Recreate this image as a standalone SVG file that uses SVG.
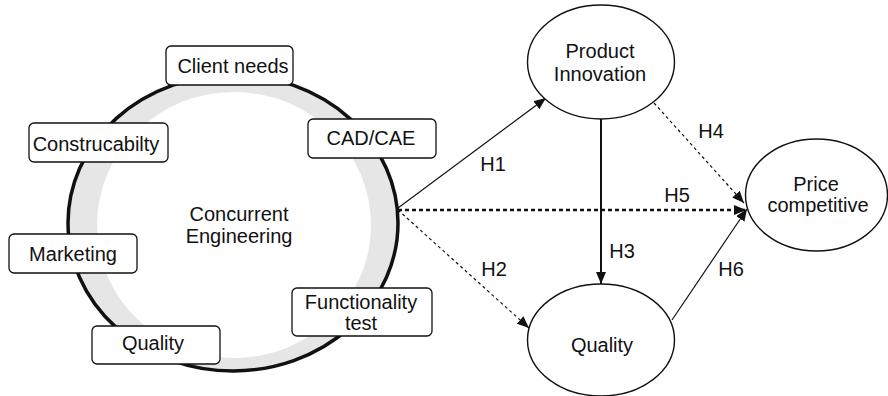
<svg xmlns="http://www.w3.org/2000/svg" width="888" height="396" viewBox="0 0 888 396">
  <style>
    text { font-family: "Liberation Sans", Arial, sans-serif; font-size: 20px; fill: #111; text-anchor: middle; }
    .box { fill: #fff; stroke: #111; stroke-width: 1.3; }
    .oval { fill: #fff; stroke: #111; stroke-width: 1.4; }
    .thin { fill: none; stroke: #111; stroke-width: 1.2; }
    .dash { fill: none; stroke: #111; stroke-width: 1.2; stroke-dasharray: 3 3; }
    .bold { fill: none; stroke: #111; stroke-width: 2; }
    .dot { fill: none; stroke: #111; stroke-width: 2.5; stroke-dasharray: 4 3; }
  </style>
  <defs>
    <marker id="arrow" viewBox="0 0 12 10" refX="12" refY="5" markerWidth="12" markerHeight="10" markerUnits="userSpaceOnUse" orient="auto">
      <path d="M0,0 L12,5 L0,10 z" fill="#111"/>
    </marker>
  </defs>

  <rect width="888" height="396" fill="#fff"/>

  <!-- concurrent engineering ring -->
  <g id="ce-ring">
    <ellipse cx="233" cy="223" rx="165" ry="148" fill="#e6e6e6" stroke="#111" stroke-width="3.5"/>
    <ellipse cx="234" cy="225" rx="137" ry="133" fill="#fff"/>
    <text x="239" y="221">Concurrent</text>
    <text x="239" y="243">Engineering</text>
  </g>

  <g id="client-needs">
    <rect class="box" x="166" y="46" width="127" height="39" rx="5"/>
    <text x="233" y="73">Client needs</text>
  </g>
  <g id="cad-cae">
    <rect class="box" x="308" y="119" width="128" height="39" rx="5"/>
    <text x="371" y="145">CAD/CAE</text>
  </g>
  <g id="construcabilty">
    <rect class="box" x="29" y="123" width="139" height="39" rx="5"/>
    <text x="96" y="151">Construcabilty</text>
  </g>
  <g id="marketing">
    <rect class="box" x="9" y="234" width="128" height="39" rx="5"/>
    <text x="73" y="261">Marketing</text>
  </g>
  <g id="quality-box">
    <rect class="box" x="92" y="326" width="128" height="38" rx="5"/>
    <text x="153" y="350">Quality</text>
  </g>
  <g id="functionality-test">
    <rect class="box" x="292" y="288" width="140" height="48" rx="5"/>
    <text x="361" y="309">Functionality</text>
    <text x="361" y="330">test</text>
  </g>

  <!-- connectors -->
  <g id="connectors">
    <line class="thin" x1="398" y1="208" x2="546" y2="98" marker-end="url(#arrow)"/>
    <line class="dash" x1="398" y1="210" x2="529" y2="328" marker-end="url(#arrow)"/>
    <line class="bold" x1="601" y1="119" x2="601" y2="284" marker-end="url(#arrow)"/>
    <line class="dash" x1="654" y1="103" x2="744" y2="203" marker-end="url(#arrow)"/>
    <line class="dot" x1="398" y1="210" x2="746" y2="210" marker-end="url(#arrow)"/>
    <line class="thin" x1="672" y1="320" x2="747" y2="209" marker-end="url(#arrow)"/>
    <text x="493" y="171">H1</text>
    <text x="494" y="276">H2</text>
    <text x="622" y="258">H3</text>
    <text x="711" y="138">H4</text>
    <text x="677" y="202">H5</text>
    <text x="731" y="276">H6</text>
  </g>

  <g id="product-innovation">
    <ellipse class="oval" cx="601" cy="62" rx="73.5" ry="57"/>
    <text x="600" y="58">Product</text>
    <text x="600" y="81">Innovation</text>
  </g>
  <g id="price-competitive">
    <ellipse class="oval" cx="816.5" cy="195" rx="71" ry="56"/>
    <text x="816" y="191">Price</text>
    <text x="818" y="212">competitive</text>
  </g>
  <g id="quality">
    <ellipse class="oval" cx="601" cy="340" rx="73.5" ry="56"/>
    <text x="602" y="352">Quality</text>
  </g>
</svg>
